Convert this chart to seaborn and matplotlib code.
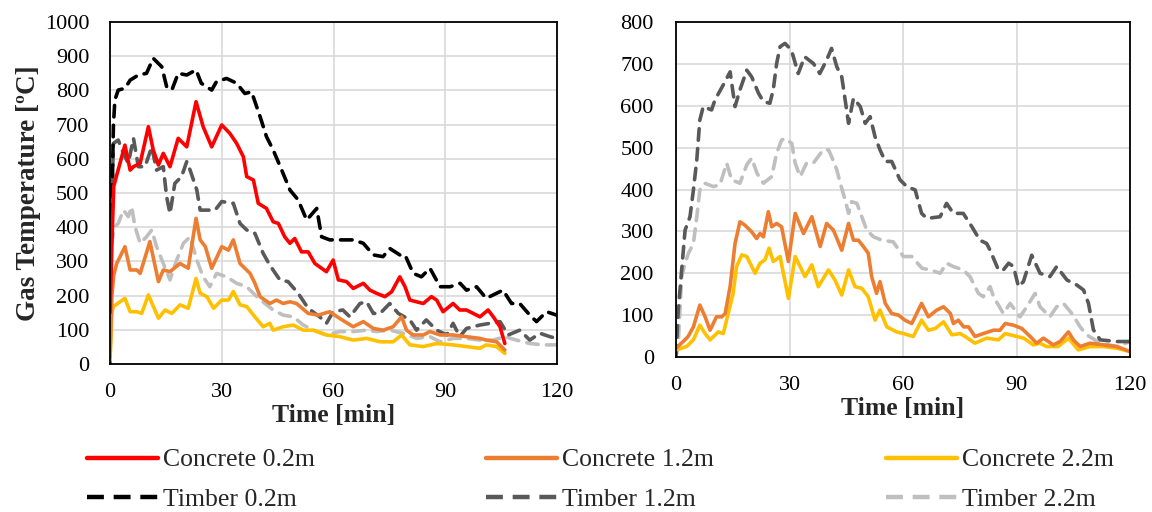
import pandas as pd
import matplotlib
matplotlib.use('Agg')
import matplotlib.pyplot as plt
import seaborn as sns
from matplotlib.lines import Line2D

# ---- left panel ----
t_conc02 = [0, 0.5, 1, 2, 3, 4, 5.4, 6.3, 8.1, 8.9, 10.3, 11.6, 13, 14.3, 16.1, 18.3, 20.6, 23.1, 25, 27.3,
            30, 32.2, 34, 35.8, 36.7, 38.5, 39.8, 42, 43.8, 45.2, 46.9, 48.3, 49.6, 51.4, 53.2, 55, 56.8,
            58.1, 59.9, 61.3, 63.5, 65.3, 68, 69.8, 71.5, 73.8, 75.6, 77.8, 79.2, 80.5, 82.3, 84.1, 86.3,
            87.7, 89.4, 92.1, 93.9, 95.7, 97.5, 99.3, 101.5, 102.9, 104.7, 106]
T_conc02 = [150, 350, 520, 560, 600, 640, 567, 577, 587, 626, 694, 626, 582, 616, 577, 660, 635, 767, 694, 635,
            699, 674, 645, 606, 548, 538, 470, 455, 416, 411, 372, 353, 367, 328, 328, 294, 280,
            270, 304, 246, 241, 221, 236, 216, 207, 197, 211, 255, 226, 187, 182, 177, 197,
            187, 153, 177, 158, 158, 148, 138, 158, 138, 109, 60]

t_conc12 = [0, 0.5, 1, 1.8, 4, 5.4, 7.2, 8.1, 10.7, 13, 14.3, 16.1, 18.8, 21, 23.1, 24.2, 25.6, 27.3, 30,
            31.8, 33.1, 34.9, 37.6, 38.9, 40.3, 42.9, 44.7, 46.5, 48.3, 50.1, 53.2, 55.9, 59, 61.7, 65.3,
            68, 70.7, 73.3, 76, 78.3, 79.6, 81.4, 84.1, 85.9, 88.6, 92.1, 95.7, 99.3, 101, 103.8, 106]
T_conc12 = [20, 200, 260, 294, 343, 275, 275, 265, 358, 241, 275, 270, 294, 280, 426, 363, 343, 280, 343,
            333, 363, 294, 265, 236, 197, 177, 187, 177, 182, 177, 148, 143, 153, 133, 109,
            124, 104, 99, 109, 138, 99, 85, 85, 95, 85, 85, 80, 75, 70, 65, 41]

t_conc22 = [0, 0.5, 0.9, 4, 5.4, 7.2, 8.5, 10.3, 13, 14.8, 16.6, 18.8, 21, 23.1, 24.2, 26, 27.8, 30, 31.8,
            33.1, 34.9, 36.7, 38.9, 41.1, 42.9, 43.8, 46.5, 49.2, 51.9, 54.6, 58.1, 61.7, 65.3, 68.9, 72.5,
            76, 78.3, 80.5, 84.1, 87.7, 92.1, 95.7, 99.3, 101, 103.8, 106]
T_conc22 = [10, 150, 168, 192, 153, 153, 148, 202, 134, 158, 148, 173, 163, 250, 207, 197, 163, 187, 187,
            212, 173, 168, 138, 109, 119, 99, 109, 114, 99, 99, 85, 80, 70, 75, 65,
            65, 85, 56, 51, 60, 56, 51, 46, 56, 51, 31]

t_timb02 = [0, 0.5, 0.9, 1.3, 2.2, 4, 5.4, 7.6, 9.8, 11.6, 13.9, 15.2, 16.6, 18.3, 20.6, 23.1, 24.5, 27.3,
            28.6, 31.3, 34, 36.2, 38, 40.3, 42, 43.8, 46.1, 48.3, 50.5, 52.8, 55.5, 56.8, 59, 61.7, 65.3,
            68, 70.7, 73.3, 75.1, 77.8, 79.2, 81.4, 83.6, 85.9, 88.6, 91.3, 94, 95.7, 98.4, 101, 103.8,
            105.5, 107.8, 110, 112.7, 114.5, 117.2, 119.9]
T_timb02 = [200, 450, 694, 772, 801, 806, 830, 845, 850, 894, 869, 811, 801, 850, 845, 860, 821, 801,
            826, 835, 821, 791, 796, 723, 665, 626, 567, 509, 480, 421, 455, 372, 363, 363, 363,
            353, 319, 314, 338, 319, 319, 265, 255, 280, 226, 226, 236, 216, 226, 192, 207,
            216, 177, 177, 143, 124, 153, 143]

t_timb12 = [0, 0.4, 0.9, 2.2, 3.6, 4.9, 6.3, 7.6, 9.4, 11.2, 12.5, 14.3, 15.2, 16.1, 17.4, 19.2, 20.6,
            21.5, 23.3, 24.2, 26, 28.2, 30, 33.1, 34.9, 36.7, 38.9, 41.1, 42.9, 45.6, 47.8, 50.5, 53.2,
            56.3, 58.1, 59.9, 62.5, 64.4, 67.1, 68.9, 70.7, 72.5, 75.1, 77.4, 80.5, 82.3, 84.9, 87.7,
            90.4, 92.1, 93.9, 95.7, 99.3, 102, 104.7, 106.9, 110, 112.7, 115.4, 118.1, 119.9]
T_timb12 = [0, 431, 645, 655, 616, 587, 660, 577, 577, 635, 567, 577, 489, 440, 528, 548, 592,
            567, 509, 450, 450, 450, 475, 470, 411, 392, 382, 324, 289, 246, 241, 207, 163,
            138, 119, 153, 158, 138, 177, 182, 148, 148, 177, 148, 129, 99, 129, 99,
            85, 119, 80, 104, 114, 119, 124, 85, 99, 70, 90, 80, 75]

t_timb22 = [0, 0.4, 1.3, 2.2, 3.6, 4.9, 5.8, 6.7, 8.1, 9.8, 11.2, 12.5, 14.3, 16.1, 17.9, 19.7, 21.5,
            23.3, 25, 26.8, 28.6, 31.3, 34, 36.7, 39.4, 41.6, 43.8, 46.5, 49.2, 51.9, 54.6, 58.1, 61.7,
            65.3, 68.9, 71.5, 75.1, 78.7, 82.3, 85.9, 88.6, 92.1, 95.7, 99.3, 102.9, 106, 109.1, 112.7,
            116.3, 119.9]
T_timb22 = [0, 353, 402, 411, 450, 431, 460, 402, 353, 372, 392, 343, 294, 246, 304, 353, 372,
            304, 255, 226, 265, 255, 236, 226, 197, 177, 158, 143, 138, 114, 99, 85, 95,
            95, 99, 95, 99, 90, 75, 80, 65, 75, 75, 70, 70, 80, 70, 60,
            56, 56]

# ---- right panel ----
tR_conc12 = [0, 1.9, 3.2, 4.6, 6.3, 7.7, 9, 10.7, 12.1, 13, 14.3, 15.6, 16.9, 18.2, 20, 21.3, 22.2, 23.1,
             24.4, 25.3, 26.6, 27.9, 29.7, 31.5, 33.7, 35.9, 38.1, 39.8, 41.6, 43.8, 45.6, 46.9, 48.2,
             49.5, 50.8, 51.7, 53, 53.9, 55.3, 57, 58.8, 60.5, 62.3, 64.9, 66.7, 68.9, 70.7, 72.5, 73.3,
             74.6, 76, 77.3, 79, 81.2, 83.9, 85.6, 87, 89.2, 91.4, 93.6, 95.3, 97.1, 99.7, 101.5, 103.7,
             105, 106.8, 109.4, 112.9, 116.5, 120]
TR_conc12 = [21, 37, 49, 72, 124, 96, 64, 96, 96, 104, 168, 271, 323, 315, 299, 283, 295, 287,
             347, 311, 319, 311, 228, 343, 295, 335, 264, 319, 303, 255, 319, 279, 279,
             264, 248, 192, 152, 180, 128, 104, 100, 88, 80, 128, 96, 112, 120, 104, 80,
             88, 72, 72, 49, 56, 64, 64, 80, 76, 68, 49, 33, 45, 29, 37, 60,
             41, 25, 33, 29, 25, 13]

tR_conc22 = [0, 2.8, 4.6, 6.3, 7.7, 9, 11.2, 12.5, 13.8, 15.1, 16, 17.4, 18.7, 20.9, 22.2, 23.5, 24.6,
             25.7, 27.5, 29.7, 31.5, 34.1, 35.9, 37.6, 40.3, 42, 43.8, 45.6, 47.3, 49.1, 50.8, 52.6, 53.9,
             55.7, 58.3, 60.1, 62.7, 64.9, 66.7, 68.5, 70.7, 72.9, 75.1, 76.4, 79, 82.1, 85.2, 87, 90.1,
             91.9, 94.4, 96.2, 97.9, 101, 103.7, 106.3, 109.4, 112.9, 116.5, 120]
TR_conc22 = [17, 25, 41, 76, 56, 41, 60, 56, 104, 152, 216, 244, 240, 200, 224, 232, 260,
             228, 240, 140, 240, 192, 220, 168, 208, 184, 148, 208, 168, 164, 144, 88, 112,
             72, 60, 56, 49, 88, 64, 68, 84, 53, 56, 49, 33, 45, 41, 56, 49,
             45, 29, 33, 25, 25, 45, 17, 25, 25, 21, 13]

tR_timb12 = [0, 0.6, 1.5, 2.4, 3.7, 4.6, 5.5, 6.3, 7.2, 9.4, 10.3, 12.5, 14.3, 15.6, 16.9, 18.7, 20,
             21.8, 23.1, 24.8, 25.7, 26.6, 27.5, 28.8, 30.5, 32.3, 34, 36.3, 38, 39.8, 41.1, 42.5, 43.8,
             44.7, 45.6, 46.9, 48.7, 50, 51.3, 52.6, 53.9, 55.3, 57, 59.2, 61, 63.2, 64.9, 66.3, 69.8,
             71.5, 73.3, 75.9, 78.2, 80.3, 82.1, 83, 85.2, 86.5, 87.9, 89.2, 90.5, 91.8, 94, 96.2, 98.8,
             100.6, 103.3, 105.9, 107.7, 109, 110.3, 112.1, 116.5, 120]
TR_timb12 = [0, 112, 208, 303, 335, 399, 471, 566, 598, 590, 614, 650, 681, 598, 638, 685, 669,
             630, 610, 606, 638, 701, 741, 749, 733, 677, 717, 701, 677, 709, 737, 693, 669,
             614, 558, 618, 598, 558, 574, 526, 495, 467, 467, 423, 407, 399, 343, 331, 335,
             367, 343, 343, 311, 279, 271, 255, 208, 208, 224, 216, 168, 180, 243, 200, 192,
             216, 184, 172, 160, 128, 65, 41, 37, 37]

tR_timb22 = [0, 0.6, 1.5, 2.4, 3.3, 4.6, 5.5, 6.3, 7.6, 9.9, 11.6, 13.4, 14.7, 16.9, 18.7, 20, 21.4,
             23.1, 25.3, 26.6, 27.9, 28.8, 30.6, 31.5, 32.8, 34.5, 36.3, 37.6, 38.9, 40.3, 41.1, 42.5,
             43.4, 44.7, 45.6, 46.4, 47.8, 49.1, 50.4, 52.2, 54.4, 57.4, 60.1, 62.3, 65, 67.2, 69.8, 71.5,
             73.3, 75.9, 77.7, 79.9, 81.2, 83, 83.9, 86.5, 88.3, 90.9, 92.7, 94.9, 96.2, 98.8, 100.6,
             102.4, 104.6, 106.8, 108.5, 112.1, 116.5, 120]
TR_timb22 = [0, 33, 192, 224, 248, 271, 335, 399, 415, 407, 411, 463, 423, 415, 459, 475, 439,
             415, 431, 487, 518, 522, 510, 463, 431, 463, 463, 479, 495, 495, 479, 447,
             415, 375, 343, 371, 367, 335, 303, 287, 279, 275, 240, 240, 212, 208, 200, 224,
             216, 208, 192, 152, 144, 168, 144, 104, 128, 96, 120, 152, 120, 96, 120,
             128, 104, 72, 53, 33, 25, 37]

colors = {'Concrete 0.2m': '#FF0000', 'Concrete 1.2m': '#ED7D31', 'Concrete 2.2m': '#FFC000',
          'Timber 0.2m': '#000000', 'Timber 1.2m': '#595959', 'Timber 2.2m': '#BFBFBF'}

left_data = {'Concrete 0.2m': (t_conc02, T_conc02), 'Concrete 1.2m': (t_conc12, T_conc12),
             'Concrete 2.2m': (t_conc22, T_conc22), 'Timber 0.2m': (t_timb02, T_timb02),
             'Timber 1.2m': (t_timb12, T_timb12), 'Timber 2.2m': (t_timb22, T_timb22)}
right_data = {'Concrete 1.2m': (tR_conc12, TR_conc12), 'Concrete 2.2m': (tR_conc22, TR_conc22),
              'Timber 1.2m': (tR_timb12, TR_timb12), 'Timber 2.2m': (tR_timb22, TR_timb22)}


def to_frame(d):
    parts = []
    for name, (t, T) in d.items():
        parts.append(pd.DataFrame({'time': t, 'temp': T, 'series': name}))
    return pd.concat(parts, ignore_index=True)


sns.set_style('whitegrid')
plt.rcParams['font.family'] = ['Liberation Serif', 'DejaVu Serif']

fig = plt.figure(figsize=(11.52, 5.12), dpi=100)
axL = fig.add_axes([0.0955, 0.289, 0.388, 0.668])
axR = fig.add_axes([0.5868, 0.3027, 0.3942, 0.6543])

draw_order = ['Timber 2.2m', 'Timber 1.2m', 'Timber 0.2m', 'Concrete 2.2m', 'Concrete 1.2m', 'Concrete 0.2m']

for ax, d, ymax in [(axL, left_data, 1000), (axR, right_data, 800)]:
    df = to_frame(d)
    for name in draw_order:
        if name not in d:
            continue
        sub = df[df['series'] == name]
        dashed = name.startswith('Timber')
        sns.lineplot(data=sub, x='time', y='temp', ax=ax, color=colors[name], lw=2.6,
                     estimator=None, sort=False, legend=False,
                     dashes=False, linestyle=(0, (3.2, 2.3)) if dashed else '-',
                     dash_capstyle='round', solid_capstyle='round')
    ax.set_xlim(0, 120)
    ax.set_ylim(0, ymax)
    ax.set_xticks([0, 30, 60, 90, 120])
    ax.set_yticks(range(0, ymax + 1, 100))
    ax.grid(True, color='#D9D9D9', lw=1.2)
    for s in ax.spines.values():
        s.set_color('black')
        s.set_linewidth(1.3)
    ax.tick_params(axis='both', length=0, labelsize=16, colors='black')
    ax.tick_params(axis='x', pad=14)
    ax.set_xlabel('Time [min]', fontsize=18.5, fontweight='bold', labelpad=1)
    ax.set_ylabel('')

axL.tick_params(axis='y', pad=15)
axR.tick_params(axis='y', pad=16)
axL.set_ylabel('Gas Temperature [ºC]', fontsize=19.5, fontweight='bold', labelpad=3)

handles = []
labels = []
for name in ['Concrete 0.2m', 'Timber 0.2m', 'Concrete 1.2m', 'Timber 1.2m', 'Concrete 2.2m', 'Timber 2.2m']:
    dashed = name.startswith('Timber')
    handles.append(Line2D([], [], color=colors[name], lw=3.2,
                          linestyle=(0, (3.8, 2.2)) if dashed else '-'))
    labels.append(name)
fig.legend(handles, labels, ncol=3, loc='upper left', bbox_to_anchor=(0.0755, 0.124),
           frameon=False, fontsize=18.5, handlelength=2.76, handletextpad=0.2,
           columnspacing=6.67, labelspacing=0.65, borderpad=0, borderaxespad=0)

fig.savefig('out.png', dpi=100)
